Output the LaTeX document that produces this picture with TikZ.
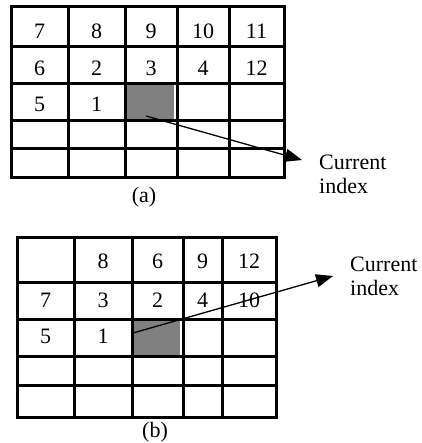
\documentclass[tikz,border=0pt]{standalone}
\usepackage{fontspec}
\setmainfont{Liberation Serif}
\usetikzlibrary{arrows.meta}
\tikzset{
  gridline/.style={line width=3pt, line cap=rect},
  num/.style={font=\fontsize{22}{24}\selectfont, inner sep=0pt},
  curcell/.style={fill=gray, draw=none, inner sep=0pt},
  pointer/.style={line width=1.3pt, -{Triangle[length=17pt,width=13pt]}},
  note/.style={font=\fontsize{22}{24}\selectfont, align=left, anchor=west, inner sep=0pt},
}
\begin{document}
\begin{tikzpicture}[x=1pt, y=-1pt]
\useasboundingbox (0,0) rectangle (421,443);
% grid (a)
\node (acell)[curcell, minimum width=48pt, minimum height=34pt] at (150,102) {};
\foreach \x in {11,68,125,177,229,284} \draw[gridline] (\x,7) -- (\x,178);
\foreach \y in {7,47,84,121,149,178} \draw[gridline] (11,\y) -- (284,\y);
\foreach \n/\x/\y in {7/39.5/31, 8/96.5/31, 9/151/31, 10/203/31, 11/256.5/31,
                      6/39.5/68, 2/96.5/68, 3/151/68, 4/203/68, 12/256.5/68,
                      5/39.5/104, 1/96.5/104}
  \node (a\n)[num] at (\x,\y) {\n};
\node (anote)[note] at (319,174) {Current\\index};
\node (acap)[num] at (144,197) {(a)};
\coordinate (afrom) at (146,116);
\coordinate (ato) at (302,160);
\draw[pointer] (afrom) -- (ato);
% grid (b)
\node (bcell)[curcell, minimum width=47pt, minimum height=34pt] at (156.5,338) {};
\foreach \x in {17,74,132,183,222,276} \draw[gridline] (\x,237) -- (\x,417);
\foreach \y in {237,282,319,356,385,417} \draw[gridline] (17,\y) -- (276,\y);
\foreach \n/\x/\y in {8/103/261, 6/157.5/261, 9/202.5/261, 12/249/261,
                      7/45.5/300, 3/103/300, 2/157.5/300, 4/202.5/300, 10/249/300,
                      5/45.5/336, 1/103/336}
  \node (b\n)[num] at (\x,\y) {\n};
\node (bnote)[note] at (350,276) {Current\\index};
\node (bcap)[num] at (155,432) {(b)};
\coordinate (bfrom) at (133,333);
\coordinate (bto) at (333,276);
\draw[pointer] (bfrom) -- (bto);
\end{tikzpicture}
\end{document}
